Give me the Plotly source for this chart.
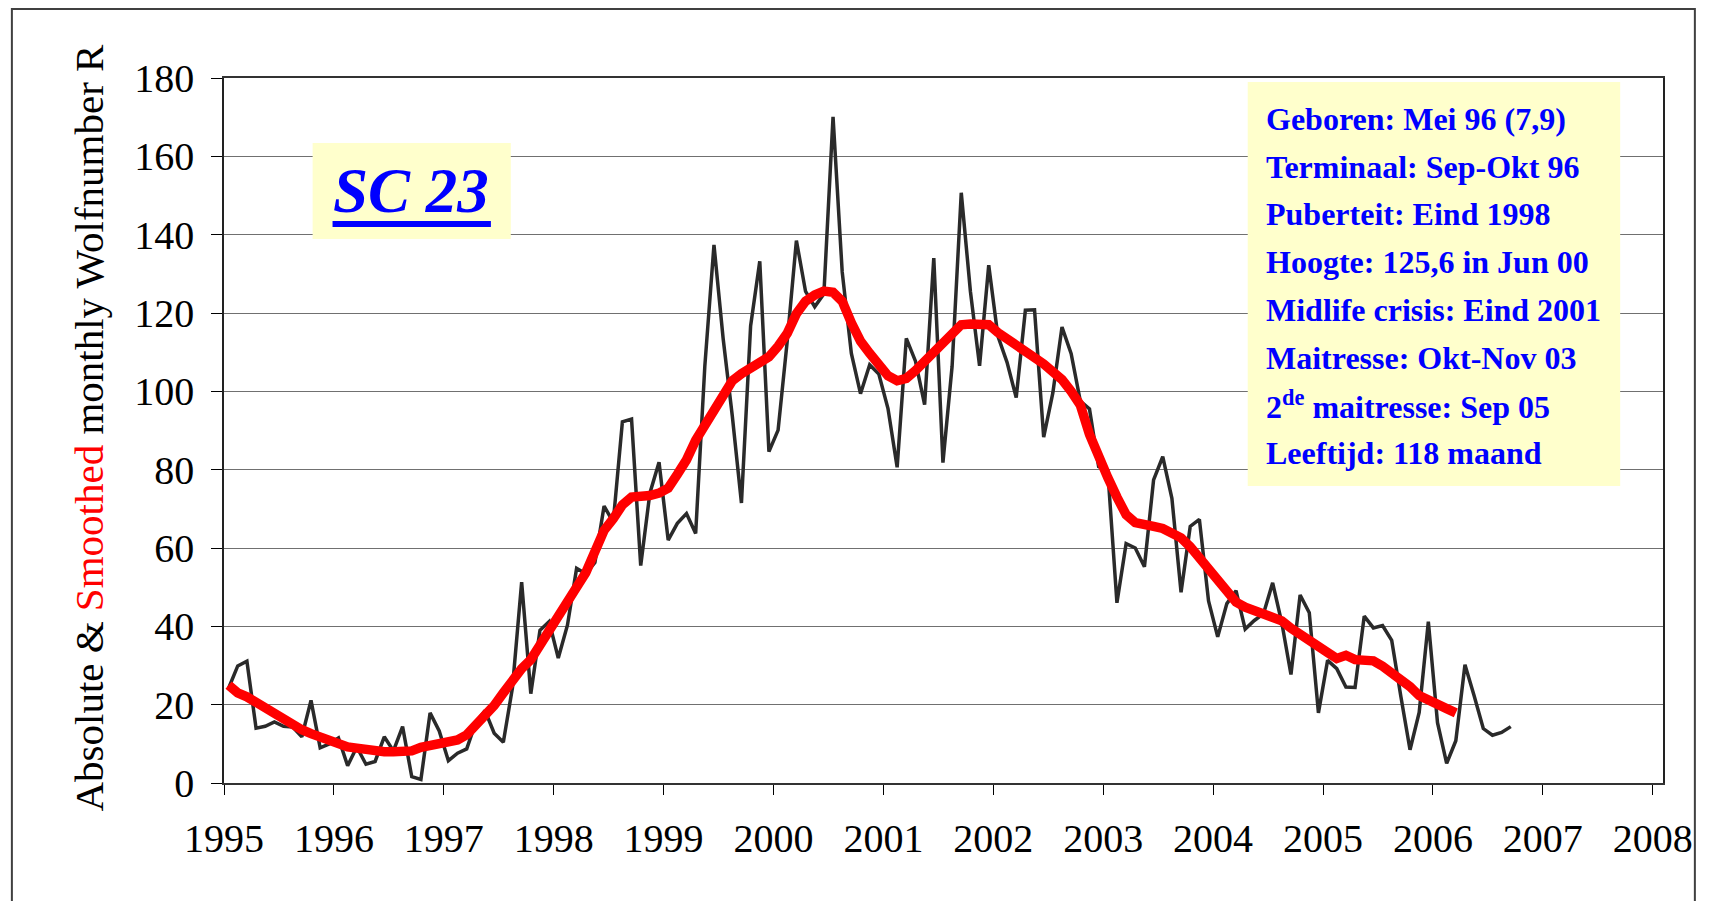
import numpy as np
import plotly.graph_objects as go

# monthly sunspot number, Jan 1995 .. Sep 2006
absolute_r = [
    24.2, 29.9, 31.1, 14.0, 14.5, 15.6, 14.5, 14.3, 11.8, 21.1, 9.0, 10.0,
    11.5, 4.4, 9.2, 4.8, 5.5, 11.8, 8.2, 14.4, 1.6, 0.9, 17.9, 13.3,
    5.7, 7.6, 8.7, 15.5, 18.5, 12.7, 10.4, 24.4, 51.3, 22.8, 39.0, 41.2,
    31.9, 40.3, 54.8, 53.4, 56.3, 70.7, 66.6, 92.2, 92.9, 55.5, 74.0, 81.9,
    62.0, 66.3, 68.8, 63.7, 106.4, 137.4, 113.5, 93.7, 71.5, 116.7, 133.2, 84.6,
    90.1, 112.9, 138.5, 125.5, 121.6, 124.9, 170.1, 130.5, 109.7, 99.4, 106.8, 104.4,
    95.6, 80.6, 113.5, 107.7, 96.6, 134.0, 81.8, 106.4, 150.7, 125.5, 106.5, 132.2,
    114.1, 107.4, 98.4, 120.7, 120.8, 88.3, 99.6, 116.4, 109.6, 97.5, 95.5, 80.8,
    79.7, 46.0, 61.1, 60.0, 55.2, 77.4, 83.3, 72.7, 48.7, 65.5, 67.3, 46.5,
    37.3, 45.8, 49.1, 39.3, 41.5, 43.2, 51.1, 40.9, 27.7, 48.0, 43.5, 17.9,
    31.3, 29.2, 24.5, 24.4, 42.6, 39.6, 40.2, 36.4, 22.1, 8.5, 18.0, 41.2,
    15.4, 5.0, 10.8, 30.2, 22.3, 13.9, 12.2, 12.9, 14.4,
]

# smoothed sunspot number, Jan 1995 .. Mar 2006
smoothed_r = [
    25.0, 23.0, 22.0, 20.5, 19.0, 17.5, 16.4, 15.0, 13.6, 12.6, 11.6, 11.0,
    10.0, 9.2, 8.9, 8.4, 7.9, 8.0, 8.0, 8.0, 8.2, 9.1, 9.6, 10.0,
    10.2, 11.0, 12.3, 14.6, 17.0, 19.8, 23.0, 26.2, 29.2, 31.5, 35.0, 38.5,
    42.0, 45.8, 50.0, 53.7, 58.7, 64.5, 67.5, 71.0, 73.0, 73.0, 73.4, 74.0,
    75.3, 78.8, 82.5, 87.5, 91.5, 95.5, 99.6, 102.7, 104.5, 106.0, 107.5, 108.8,
    111.5, 114.8, 119.8, 123.0, 124.6, 125.6, 125.3, 123.0, 117.5, 112.8, 109.7, 106.5,
    104.0, 102.7, 103.3, 105.3, 107.5, 110.0, 112.2, 114.8, 117.0, 117.2, 117.2, 117.0,
    115.0, 113.5, 112.0, 110.8, 108.6, 107.0, 105.0, 103.0, 100.0, 96.5, 89.0, 83.0,
    78.0, 73.0, 68.5, 66.5, 65.7, 65.5, 65.0, 64.0, 62.6, 60.3, 57.5, 54.3,
    51.0, 48.4, 46.2, 44.9, 44.0, 43.3, 42.6, 41.4, 39.5, 37.8, 36.0, 34.7,
    33.3, 31.8, 32.6, 31.5, 31.3, 31.2, 29.8, 28.2, 26.8, 24.6, 22.3, 21.0,
    20.0, 19.0, 17.9,
]

start_year = 1995
year_ticks = list(range(1995, 2009))
r_ticks = list(range(0, 181, 20))

info_lines = [
    "Geboren: Mei 96 (7,9)",
    "Terminaal: Sep-Okt 96",
    "Puberteit: Eind 1998",
    "Hoogte: 125,6 in Jun 00",
    "Midlife crisis: Eind 2001",
    "Maitresse: Okt-Nov 03",
    "2<sup>de</sup> maitresse: Sep 05",
    "Leeftijd: 118 maand",
]

# the page puts the figure 8px in from the top-left corner (body margin);
# keep the figure small enough that no scrollbars show up
PAGE = 8
W, H = 1713 - 2 * PAGE, 909 - 2 * PAGE
L, R, T, B = 224, 1669, 78, 783   # plot area in page pixels
SERIF = "Liberation Serif, Times New Roman, serif"
BLUE = "#0000ff"
YELLOW = "#ffffcc"


def px_x(p):
    return (p - L) / (R - L)


def px_y(p):
    return (B - p) / (B - T)


def month_axis(n):
    # points sit in the middle of each month
    return start_year + (np.arange(n) + 0.5) / 12


fig = go.Figure()
fig.add_trace(go.Scatter(
    x=month_axis(len(absolute_r)), y=absolute_r, mode="lines",
    line=dict(color="#2a2a2a", width=3.5), name="Absolute",
))
fig.add_trace(go.Scatter(
    x=month_axis(len(smoothed_r)), y=smoothed_r, mode="lines",
    line=dict(color="#ff0000", width=9.5), name="Smoothed",
))

axis_font = dict(family=SERIF, size=40, color="black")
fig.update_xaxes(
    range=[1995, 1995 + (R - L) / 110.36], tickvals=year_ticks,
    ticks="outside", ticklen=10, tickcolor="black", tickwidth=1,
    showline=True, linecolor="#333333", linewidth=1.5, mirror=True,
    showgrid=False, zeroline=False, tickfont=axis_font, ticklabelstandoff=9,
)
fig.update_yaxes(
    range=[0, 180], tickvals=r_ticks,
    ticks="outside", ticklen=11, tickcolor="black", tickwidth=1,
    showline=True, linecolor="#222222", linewidth=1.5, mirror=True,
    showgrid=True, gridcolor="#707070", gridwidth=1.2, zeroline=False,
    tickfont=axis_font, ticklabelstandoff=9,
)

shapes = [
    # outer frame (its top edge sits in the page margin, so keep it just inside)
    dict(type="rect", xref="paper", yref="paper",
         x0=px_x(11), x1=px_x(1701), y0=px_y(9), y1=px_y(960),
         line=dict(color="#404040", width=2), fillcolor="rgba(0,0,0,0)"),
    # SC 23 box
    dict(type="rect", xref="paper", yref="paper", layer="above",
         x0=px_x(313), x1=px_x(512), y0=px_y(143), y1=px_y(239),
         line=dict(width=0), fillcolor=YELLOW),
    # thick underline of the SC 23 label
    dict(type="line", xref="paper", yref="paper", layer="above",
         x0=px_x(333), x1=px_x(492), y0=px_y(224), y1=px_y(224),
         line=dict(color=BLUE, width=6)),
    # info box
    dict(type="rect", xref="paper", yref="paper", layer="above",
         x0=px_x(1252), x1=px_x(1626), y0=px_y(82), y1=px_y(486),
         line=dict(width=0), fillcolor=YELLOW),
]

annotations = [
    dict(text="Absolute &amp; <span style='color:#ff0000'>Smoothed</span> monthly Wolfnumber R",
         xref="paper", yref="paper", x=px_x(88), y=px_y(428), textangle=-90,
         xanchor="center", yanchor="middle",
         showarrow=False, font=dict(family=SERIF, size=41, color="black")),
    dict(text="<b><i>SC 23</i></b>", xref="paper", yref="paper",
         x=px_x(412), y=px_y(191), xanchor="center", yanchor="middle",
         showarrow=False, font=dict(family=SERIF, size=63, color=BLUE)),
]
for k, line in enumerate(info_lines):
    annotations.append(dict(
        text="<b>" + line + "</b>", xref="paper", yref="paper",
        x=px_x(1268), y=px_y(119 + k * 47.7), xanchor="left", yanchor="middle",
        showarrow=False, font=dict(family=SERIF, size=32, color=BLUE),
    ))

fig.update_layout(
    width=W, height=H,
    margin=dict(l=L - PAGE, r=W - (R - PAGE), t=T - PAGE, b=H - (B - PAGE)),
    paper_bgcolor="white", plot_bgcolor="white",
    showlegend=False, shapes=shapes, annotations=annotations,
)

fig.write_html("out.html")
